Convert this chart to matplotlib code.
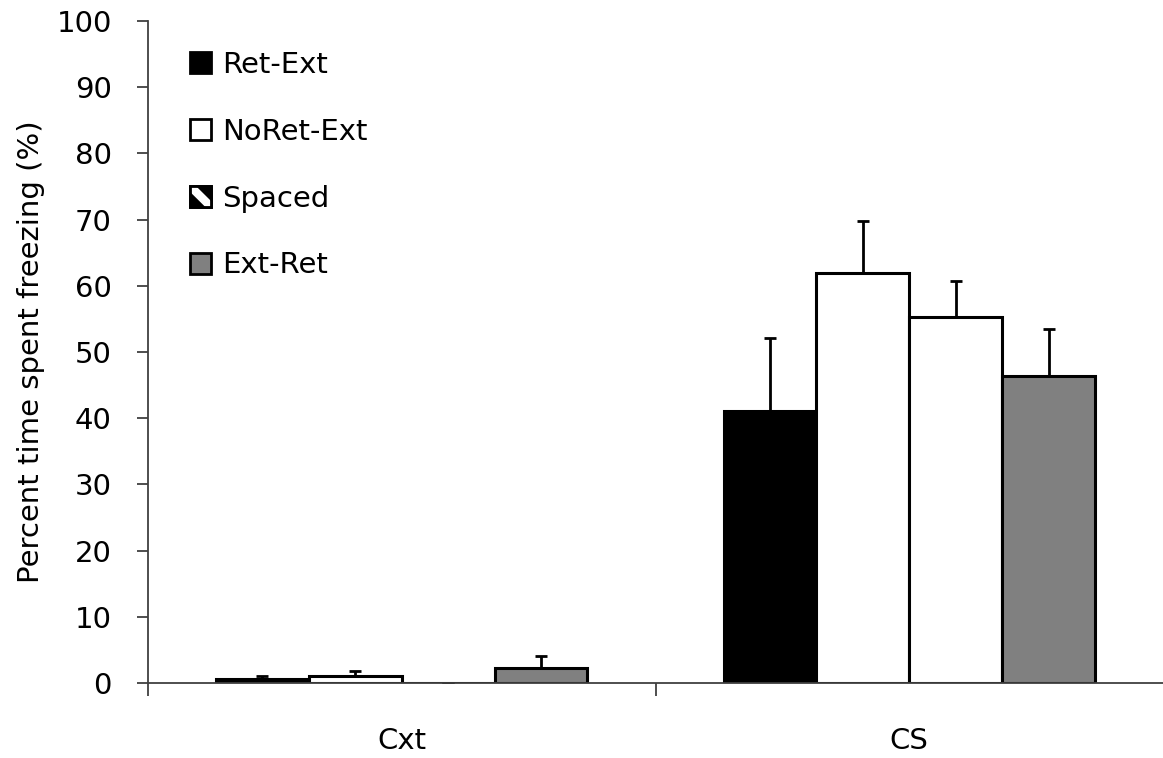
import numpy as np
import matplotlib
matplotlib.use("Agg")
import matplotlib.pyplot as plt
from matplotlib.patches import Patch, Rectangle, Polygon
from matplotlib.legend_handler import HandlerPatch

plt.rcParams['font.family'] = ['DejaVu Sans']

categories = ['Cxt', 'CS']
groups = ['Ret-Ext', 'NoRet-Ext', 'Spaced', 'Ext-Ret']
means = {
    'Ret-Ext':   [0.6, 41.1],
    'NoRet-Ext': [1.0, 61.9],
    'Spaced':    [0.0, 55.3],
    'Ext-Ret':   [2.2, 46.3],
}
errors = {
    'Ret-Ext':   [0.4, 11.0],
    'NoRet-Ext': [0.8, 7.9],
    'Spaced':    [0.0, 5.5],
    'Ext-Ret':   [1.9, 7.1],
}
colors = {'Ret-Ext': 'black', 'NoRet-Ext': 'white', 'Spaced': 'white', 'Ext-Ret': '#808080'}
FS = 21


class StripeHandler(HandlerPatch):
    # black square with a white diagonal stripe, like the Spaced key
    def create_artists(self, legend, orig_handle, xdescent, ydescent, width, height, fontsize, trans):
        x0, y0 = -xdescent, -ydescent
        base = Rectangle((x0, y0), width, height, facecolor='black', edgecolor='black',
                         linewidth=2, transform=trans)
        w = 0.28
        stripe = Polygon([(x0, y0 + height * (1 - w)), (x0, y0 + height),
                          (x0 + width * w, y0 + height),
                          (x0 + width, y0 + height * w), (x0 + width, y0),
                          (x0 + width * (1 - w), y0)],
                         closed=True, facecolor='white', edgecolor='none', transform=trans)
        frame = Rectangle((x0, y0), width, height, facecolor='none', edgecolor='black',
                          linewidth=2, transform=trans)
        return [base, stripe, frame]


fig = plt.figure(figsize=(11.63, 7.58), dpi=100)
ax = fig.add_axes([148 / 1163, 1 - 683 / 758, (1163 - 148) / 1163, (683 - 21) / 758])

x = np.arange(len(categories))
width = 0.183
for i, g in enumerate(groups):
    pos = x + (i - 1.5) * width
    ax.bar(pos, means[g], width, color=colors[g], edgecolor='black', linewidth=2.2, zorder=2)
    ax.errorbar(pos, means[g], yerr=[np.zeros(len(categories)), errors[g]], fmt='none',
                ecolor='black', elinewidth=2, capsize=4.5, capthick=2, zorder=1)

ax.set_xlim(-0.5, 1.5)
ax.set_ylim(0, 100)
ax.set_yticks(np.arange(0, 101, 10))
ax.set_xticks([-0.5, 0.5])
ax.set_xticklabels([])
ax.set_xticks(x, minor=True)
ax.set_xticklabels(categories, minor=True)
ax.tick_params(axis='x', which='minor', length=0, pad=32, labelsize=FS)
ax.tick_params(axis='x', which='major', length=9, width=1.3, color='#404040')
ax.tick_params(axis='y', length=8, width=1.3, color='#404040', labelsize=FS, pad=18)
for s in ['top', 'right']:
    ax.spines[s].set_visible(False)
for s in ['left', 'bottom']:
    ax.spines[s].set_color('#404040')
    ax.spines[s].set_linewidth(1.3)
ax.set_ylabel('Percent time spent freezing (%)', fontsize=FS, labelpad=8)

handles = [
    Patch(facecolor='black', edgecolor='black', linewidth=2),
    Patch(facecolor='white', edgecolor='black', linewidth=2),
    Patch(facecolor='white', edgecolor='black', linewidth=2),
    Patch(facecolor='#808080', edgecolor='black', linewidth=2),
]
fig.legend(handles, groups, loc='upper left', bbox_to_anchor=(190 / 1163, 1 - 51 / 758),
           bbox_transform=fig.transFigure, frameon=False, borderpad=0, borderaxespad=0,
           fontsize=FS, handlelength=0.72, handleheight=0.72, handletextpad=0.38,
           labelspacing=1.33, handler_map={handles[2]: StripeHandler()})

fig.savefig('out.png', dpi=100)
